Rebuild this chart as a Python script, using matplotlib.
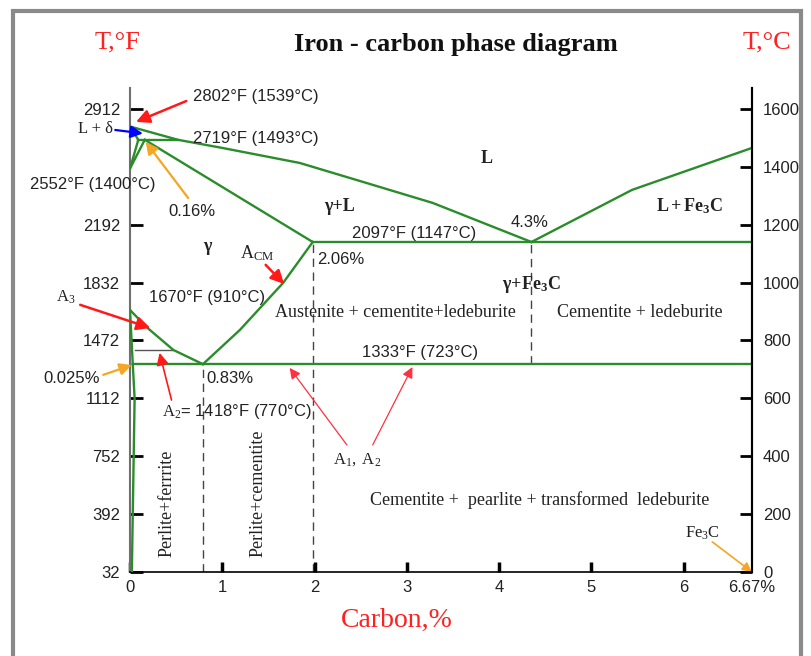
import matplotlib
matplotlib.use("Agg")
import matplotlib.pyplot as plt
from matplotlib.patches import Rectangle

plt.rcParams['mathtext.fontset'] = 'custom'
plt.rcParams['mathtext.rm'] = 'Liberation Serif'
plt.rcParams['mathtext.it'] = 'Liberation Serif:italic'
plt.rcParams['mathtext.bf'] = 'Liberation Serif:bold'

SANS = 'Liberation Sans'
SERIF = 'Liberation Serif'

# ---------------- data (carbon %, temperature degC) ----------------
liquidus_left_C = [0.0, 0.52, 1.0, 1.84, 2.52, 3.28, 4.35]
liquidus_left_T = [1539, 1493, 1465, 1413, 1348, 1275, 1140]
liquidus_right_C = [4.35, 5.44, 6.74]
liquidus_right_T = [1140, 1320, 1465]
solidus_C = [0.16, 1.98]
solidus_T = [1493, 1140]
delta_solidus_C = [0.0, 0.09]
delta_solidus_T = [1539, 1493]
delta_a_C = [0.0, 0.09]
delta_a_T = [1394, 1493]
delta_b_C = [0.0, 0.16]
delta_b_T = [1394, 1493]
peritectic_C = [0.09, 0.52]
peritectic_T = [1493, 1493]
eutectic_C = [1.98, 6.74]
eutectic_T = [1140, 1140]
acm_C = [0.79, 1.19, 1.66, 1.98]
acm_T = [718, 836, 999, 1140]
a3_C = [0.0, 0.19, 0.47, 0.79]
a3_T = [905, 843, 767, 718]
alpha_top_C = [0.0, 0.03]
alpha_top_T = [905, 718]
alpha_solvus_C = [0.03, 0.05, 0.02]
alpha_solvus_T = [718, 600, 0]
eutectoid_C = [0.03, 6.74]
eutectoid_T = [718, 718]
a2_C = [0.05, 0.47]
a2_T = [767, 767]
dashed_x = [0.79, 1.98, 4.35]
dashed_bottom = [0, 0, 718]
dashed_top = [718, 1140, 1140]

x_ticks = [0, 1, 2, 3, 4, 5, 6, 6.74]
x_tick_labels = ['0', '1', '2', '3', '4', '5', '6', '6.67%']
left_ticks = [0, 200, 400, 600, 800, 1000, 1200, 1600]
f_tick_labels = ['32', '392', '752', '1112', '1472', '1832', '2192', '2912']
c_ticks = [0, 200, 400, 600, 800, 1000, 1200, 1400, 1600]
c_tick_labels = ['0', '200', '400', '600', '800', '1000', '1200', '1400', '1600']

GREEN = '#2a8c2a'
RED = '#ff1a1a'
ORANGE = '#f5a623'

W, H = 812, 656
fig = plt.figure(figsize=(W / 100, H / 100), dpi=100)
fig.patch.set_facecolor('white')

ax = fig.add_axes([130 / W, (H - 572) / H, (752 - 130) / W, (572 - 88) / H])
ax.set_xlim(0, 6.74)
ax.set_ylim(0, 1672)

lw = 1.7
for cx, ty in [(liquidus_left_C, liquidus_left_T), (liquidus_right_C, liquidus_right_T),
               (solidus_C, solidus_T), (delta_solidus_C, delta_solidus_T),
               (delta_a_C, delta_a_T), (delta_b_C, delta_b_T),
               (peritectic_C, peritectic_T), (eutectic_C, eutectic_T),
               (acm_C, acm_T), (a3_C, a3_T), (alpha_top_C, alpha_top_T),
               (alpha_solvus_C, alpha_solvus_T), (eutectoid_C, eutectoid_T)]:
    ax.plot(cx, ty, color=GREEN, lw=lw, solid_joinstyle='miter', zorder=3)

ax.plot(a2_C, a2_T, color='#555555', lw=1.0, zorder=2)
ax.vlines(dashed_x, dashed_bottom, dashed_top, colors='#444444', linestyles=(0, (6, 4)), lw=1.0, zorder=1)

# axes styling
ax.spines['top'].set_visible(False)
ax.spines['left'].set_color('#6f6f6f')
ax.spines['left'].set_linewidth(1.5)
ax.spines['right'].set_linewidth(1.5)
ax.spines['bottom'].set_linewidth(1.2)

ax.set_xticks(x_ticks)
ax.set_xticklabels(x_tick_labels, fontfamily=SANS, fontsize=12, color='#222222')
ax.tick_params(axis='x', direction='in', length=7, width=2.5, pad=6)
ax.set_yticks(left_ticks)
ax.set_yticklabels(f_tick_labels, fontfamily=SANS, fontsize=12, color='#222222')
ax.tick_params(axis='y', direction='in', length=9, width=2, pad=7)
ax.get_xticklines()[-2].set_visible(False)

ax2 = ax.twinx()
ax2.set_ylim(ax.get_ylim())
ax2.set_yticks(c_ticks)
ax2.set_yticklabels(c_tick_labels, fontfamily=SANS, fontsize=12, color='#222222')
ax2.tick_params(axis='y', direction='in', length=9, width=2, pad=8)
for s in ['top', 'left', 'bottom']:
    ax2.spines[s].set_visible(False)
ax2.spines['right'].set_linewidth(1.5)


def txt(x, y, s, family=SANS, size=12, weight='normal', ha='center', va='center', color='#222222', rot=0):
    ax.text(x, y, s, fontfamily=family, fontsize=size, fontweight=weight, ha=ha, va=va,
            color=color, rotation=rot, clip_on=False, zorder=5)


def arrow(x0, y0, x1, y1, color=RED, lw=1.8, ms=20):
    ax.annotate('', xy=(x1, y1), xytext=(x0, y0), annotation_clip=False,
                arrowprops=dict(arrowstyle='-|>', color=color, lw=lw, mutation_scale=ms,
                                shrinkA=0, shrinkB=0), zorder=6)


# annotations
txt(0.68, 1641, '2802°F (1539°C)', ha='left')
arrow(0.61, 1627, 0.065, 1555)
txt(-0.18, 1531, 'L + δ', family=SERIF, size=12, ha='right')
arrow(-0.16, 1527, 0.14, 1515, color='#0000ff', lw=1.6, ms=18)
txt(0.68, 1497, '2719°F (1493°C)', ha='left')
txt(-1.08, 1340, '2552°F (1400°C)', ha='left')
arrow(0.63, 1292, 0.17, 1486, color=ORANGE, lw=1.6, ms=18)
txt(0.67, 1247, '0.16%')
txt(0.84, 1123, 'γ', family=SERIF, size=13, weight='bold')
txt(1.19, 1102, r'$\mathrm{A_{CM}}$', family=SERIF, size=13, ha='left')
arrow(1.47, 1061, 1.67, 995)
txt(2.27, 1261, 'γ+L', family=SERIF, size=13, weight='bold')
txt(3.86, 1430, 'L', family=SERIF, size=13, weight='bold')
txt(6.06, 1265, r'$\mathbf{L + Fe_3C}$', family=SERIF, size=13)
txt(4.33, 1209, '4.3%')
txt(3.08, 1171, '2097°F (1147°C)')
txt(2.28, 1078, '2.06%')
txt(4.35, 992, r'$\mathbf{\gamma\!+\!Fe_3C}$', family=SERIF, size=13)
txt(2.88, 898, 'Austenite + cementite+ledeburite', family=SERIF, size=13)
txt(5.52, 898, 'Cementite + ledeburite', family=SERIF, size=13)
txt(0.84, 947, '1670°F (910°C)')
txt(-0.70, 950, r'$\mathrm{A_3}$', family=SERIF, size=12)
arrow(-0.54, 923, 0.22, 843)
txt(3.14, 757, '1333°F (723°C)')
txt(-0.63, 670, '0.025%')
arrow(-0.29, 681, 0.02, 715, color=ORANGE, lw=1.6, ms=18)
txt(1.08, 670, '0.83%')
txt(0.35, 556, r'$\mathrm{A_2}$= 1418°F (770°C)', ha='left')
arrow(0.45, 594, 0.32, 757, lw=1.2, ms=18)
txt(2.46, 390, r'$\mathrm{A_1,\ A_2}$', family=SERIF, size=12)
arrow(2.35, 439, 1.73, 705, color='#ff3040', lw=0.9, ms=16)
arrow(2.63, 439, 3.06, 708, color='#ff3040', lw=0.9, ms=16)
txt(0.40, 52, 'Perlite+ferrrite', family=SERIF, size=13, rot=90, va='bottom')
txt(1.39, 52, 'Perlite+cementite', family=SERIF, size=13, rot=90, va='bottom')
txt(4.44, 249, 'Cementite +  pearlite + transformed  ledeburite', family=SERIF, size=13)
txt(6.20, 135, r'$\mathrm{Fe_3C}$', family=SERIF, size=12)
arrow(6.31, 104, 6.74, 0, color=ORANGE, lw=1.2, ms=14)

# figure-level texts
fig.text(456 / W, 1 - 45 / H, 'Iron - carbon phase diagram', fontfamily=SERIF, fontsize=19,
         fontweight='bold', ha='center', va='center', color='#111111')
fig.text(118 / W, 1 - 42 / H, 'T,°F', fontfamily=SERIF, fontsize=19, ha='center', va='center', color='#ff2020')
fig.text(767 / W, 1 - 42 / H, 'T,°C', fontfamily=SERIF, fontsize=19, ha='center', va='center', color='#ff2020')
fig.text(397 / W, 1 - 620 / H, 'Carbon,%', fontfamily=SERIF, fontsize=20, ha='center', va='center', color='#ff2020')

# grey frame around the picture
fig.add_artist(Rectangle((13 / W, -0.1), (801 - 13) / W, 1.1 - 11 / H, transform=fig.transFigure,
                         facecolor='none', edgecolor='#8a8a8a', lw=3, zorder=0))

fig.savefig('out.png', dpi=100, facecolor='white')
